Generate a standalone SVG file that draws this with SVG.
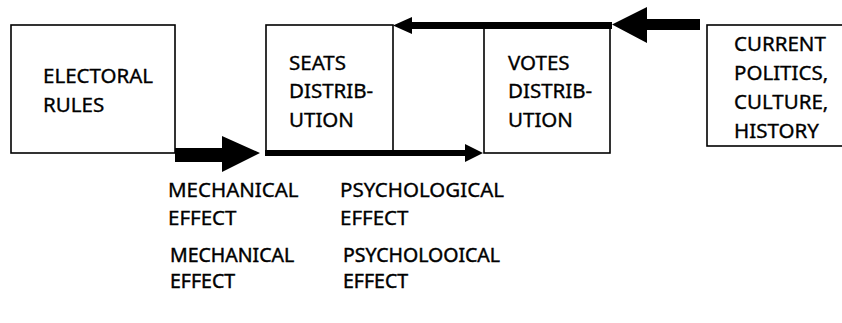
<svg xmlns="http://www.w3.org/2000/svg" width="842" height="323" viewBox="0 0 842 323">
<style>
.box{fill:none;stroke:#000;stroke-width:1.6}
.t{font-family:"Noto Sans","Liberation Sans",sans-serif;font-size:20.5px;fill:#000;stroke:#000;stroke-width:0.35}
.t2{font-family:"Noto Sans","Liberation Sans",sans-serif;font-size:19.5px;fill:#000;stroke:#000;stroke-width:0.45}
.ar{fill:#000;stroke:none}
</style>
<rect width="842" height="323" fill="#fff"/>
<g id="electoral-rules">
<rect class="box" x="11" y="25" width="164" height="128"/>
<text class="t" x="43" y="83">ELECTORAL</text>
<text class="t" x="43" y="112">RULES</text>
</g>
<g id="seats-distribution">
<rect class="box" x="266" y="25" width="127" height="128"/>
<text class="t" x="289" y="70">SEATS</text>
<text class="t" x="289" y="98">DISTRIB-</text>
<text class="t" x="289" y="127">UTION</text>
</g>
<g id="votes-distribution">
<rect class="box" x="484" y="25" width="126" height="128"/>
<text class="t" x="508" y="70">VOTES</text>
<text class="t" x="508" y="98">DISTRIB-</text>
<text class="t" x="508" y="127">UTION</text>
</g>
<g id="current-politics">
<rect class="box" x="707" y="25" width="150" height="121"/>
<text class="t" x="734" y="51">CURRENT</text>
<text class="t" x="734" y="80">POLITICS,</text>
<text class="t" x="734" y="109">CULTURE,</text>
<text class="t" x="734" y="138">HISTORY</text>
</g>
<g id="connectors">
<polygon class="ar" points="175,148 222,148 222,136 260,153 222,172 222,162 175,162"/>
<polygon class="ar" points="265,150 465,150 465,144 483,153 465,162 465,156 265,156"/>
<polygon class="ar" points="612,22 412,22 412,17 393,25.5 412,34 412,29 612,29"/>
<polygon class="ar" points="700,19 647,19 647,7 612,24.5 647,43 647,30 700,30"/>
</g>
<g id="labels">
<text class="t" x="168" y="197">MECHANICAL</text>
<text class="t" x="168" y="225">EFFECT</text>
<text class="t" x="340" y="197">PSYCHOLOGICAL</text>
<text class="t" x="340" y="225">EFFECT</text>
<text class="t2" x="170" y="262">MECHANICAL</text>
<text class="t2" x="170" y="288">EFFECT</text>
<text class="t2" x="343" y="262">PSYCHOLOOICAL</text>
<text class="t2" x="343" y="288">EFFECT</text>
</g>
</svg>
